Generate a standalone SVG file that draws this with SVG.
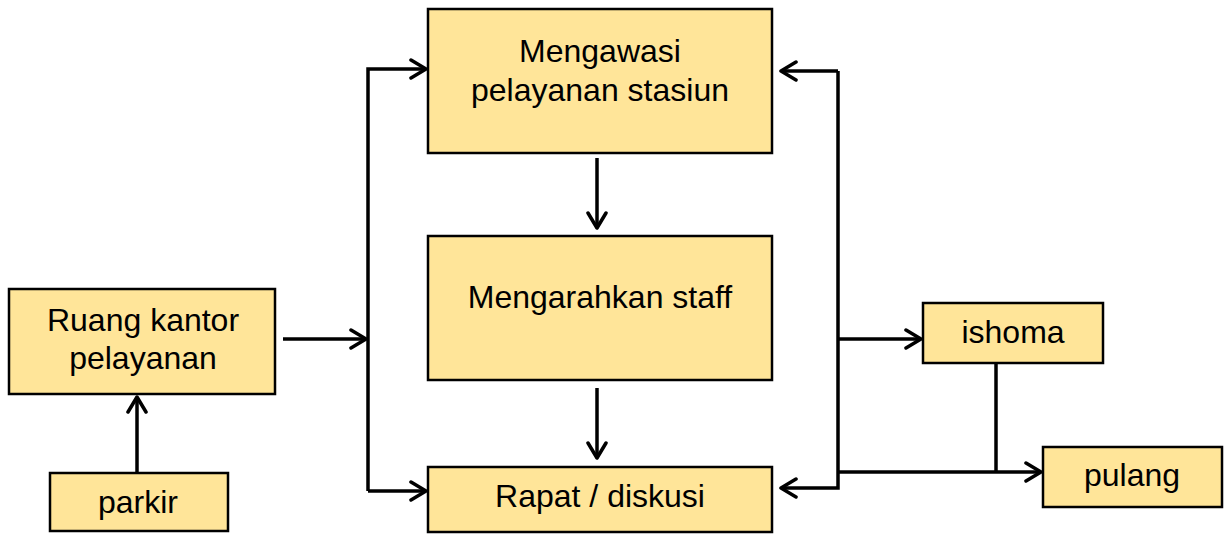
<svg xmlns="http://www.w3.org/2000/svg" width="1225" height="534" viewBox="0 0 1225 534">
  <defs>
    <marker id="arrow" viewBox="0 0 22 22" refX="19" refY="11" markerWidth="22" markerHeight="22" markerUnits="userSpaceOnUse" orient="auto">
      <path d="M4 2 L19 11 L4 20" fill="none" stroke="#000" stroke-width="3.5" stroke-linecap="round" stroke-linejoin="round"/>
    </marker>
    <style>
      .box { fill: #FFE599; stroke: #000; stroke-width: 2.5; }
      .lbl { font-family: "Liberation Sans", Arial, sans-serif; font-size: 32px; fill: #000; text-anchor: middle; }
      .wire { fill: none; stroke: #000; stroke-width: 3.5; }
      .arr { marker-end: url(#arrow); }
    </style>
  </defs>
  <rect width="1225" height="534" fill="#fff"/>

  <g id="connectors">
    <!-- parkir up to office -->
    <path class="wire arr" d="M137 472 V397"/>
    <!-- office to left bus -->
    <path class="wire arr" d="M283 339 H366"/>
    <!-- left bus feeding top and bottom boxes -->
    <path class="wire arr" d="M368 491 V69 H426"/>
    <path class="wire arr" d="M368 491 H426"/>
    <!-- vertical flow in the middle column -->
    <path class="wire arr" d="M597 158 V228"/>
    <path class="wire arr" d="M597 388 V458"/>
    <!-- right bus back to top and bottom boxes -->
    <path class="wire arr" d="M838 71 H781"/>
    <path class="wire arr" d="M838 71 V488 H781"/>
    <!-- right bus to ishoma -->
    <path class="wire arr" d="M838 339 H921"/>
    <!-- ishoma down, joining line to pulang -->
    <path class="wire" d="M996 363 V472"/>
    <path class="wire arr" d="M838 472 H1041"/>
  </g>

  <g id="node-ruang-kantor">
    <rect class="box" x="9" y="289" width="266" height="105"/>
    <text class="lbl" x="143" y="331">Ruang kantor</text>
    <text class="lbl" x="143" y="369">pelayanan</text>
  </g>

  <g id="node-parkir">
    <rect class="box" x="50" y="473" width="178" height="58"/>
    <text class="lbl" x="138" y="513">parkir</text>
  </g>

  <g id="node-mengawasi">
    <rect class="box" x="428" y="9" width="344" height="144"/>
    <text class="lbl" x="600" y="62">Mengawasi</text>
    <text class="lbl" x="600" y="101">pelayanan stasiun</text>
  </g>

  <g id="node-mengarahkan">
    <rect class="box" x="428" y="236" width="344" height="144"/>
    <text class="lbl" x="600" y="308">Mengarahkan staff</text>
  </g>

  <g id="node-rapat">
    <rect class="box" x="428" y="467" width="344" height="65"/>
    <text class="lbl" x="600" y="507">Rapat / diskusi</text>
  </g>

  <g id="node-ishoma">
    <rect class="box" x="923" y="303" width="180" height="60"/>
    <text class="lbl" x="1013" y="343">ishoma</text>
  </g>

  <g id="node-pulang">
    <rect class="box" x="1043" y="447" width="179" height="60"/>
    <text class="lbl" x="1132" y="486">pulang</text>
  </g>
</svg>
